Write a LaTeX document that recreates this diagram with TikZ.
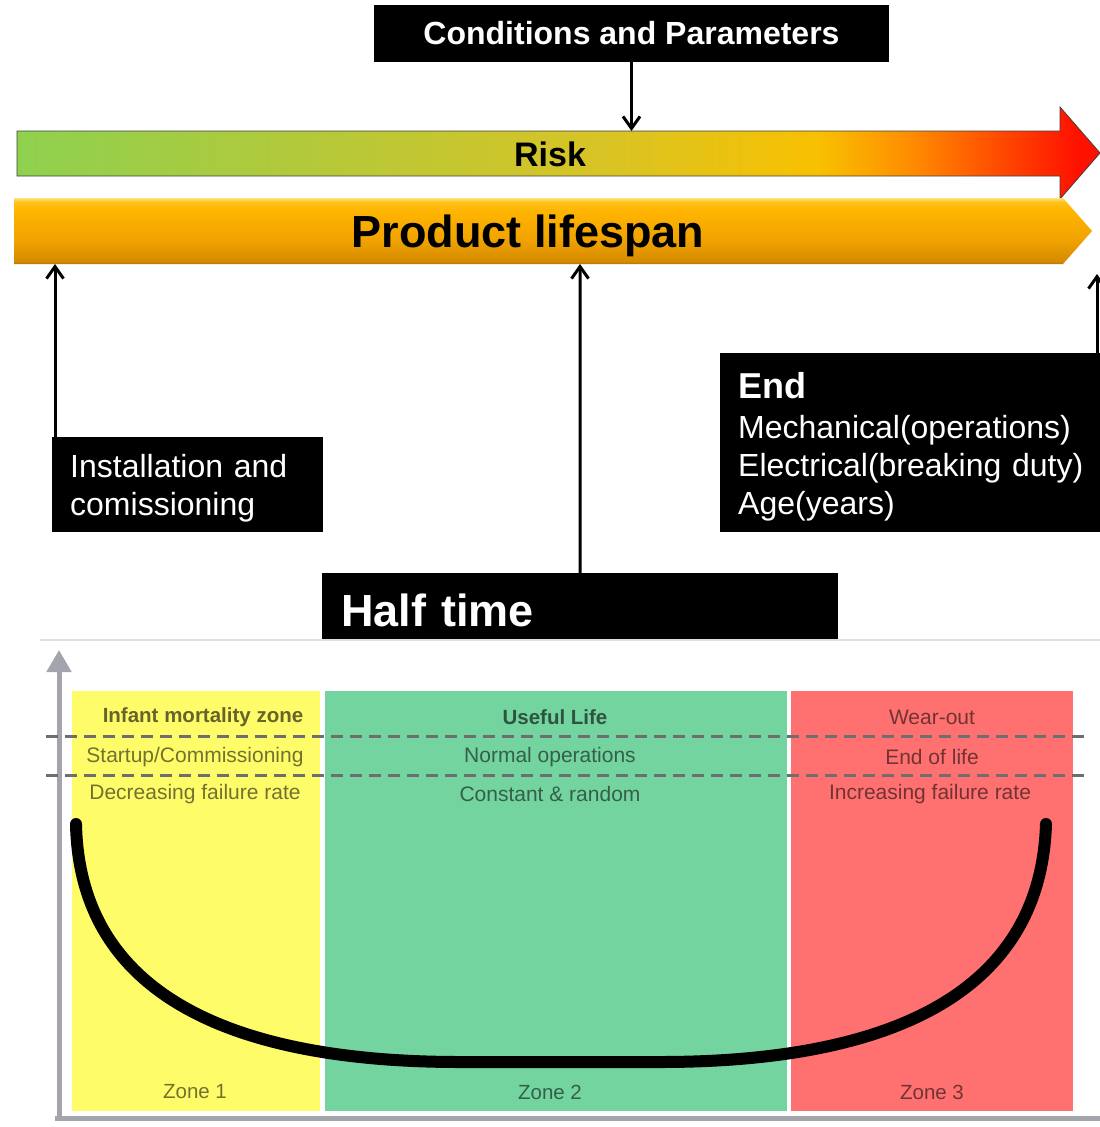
\documentclass[tikz,border=0pt]{standalone}
\usepackage{fontspec}
\setmainfont{Liberation Sans}
\usetikzlibrary{arrows.meta}
\definecolor{rg1}{RGB}{143,209,79}
\definecolor{rg2}{RGB}{178,201,58}
\definecolor{rg3}{RGB}{216,196,37}
\definecolor{rg4}{RGB}{248,192,0}
\definecolor{rg5}{RGB}{255,140,0}
\definecolor{rg6}{RGB}{255,64,0}
\definecolor{rg7}{RGB}{255,16,0}
\definecolor{lp0}{RGB}{176,116,16}
\definecolor{lp1}{RGB}{214,140,0}
\definecolor{lp2}{RGB}{242,164,0}
\definecolor{lp3}{RGB}{255,180,0}
\definecolor{lp4}{RGB}{255,194,26}
\definecolor{lp5}{RGB}{255,226,122}
\definecolor{zyellow}{RGB}{255,252,106}
\definecolor{zgreen}{RGB}{116,212,160}
\definecolor{zred}{RGB}{255,113,113}
\definecolor{axisgray}{RGB}{164,164,172}
\definecolor{dashgray}{RGB}{110,110,110}
\pgfdeclarehorizontalshading{riskshade}{100bp}{color(0bp)=(rg1); color(25bp)=(rg1); color(38bp)=(rg2); color(52bp)=(rg3); color(62bp)=(rg4); color(66.3bp)=(rg5); color(71bp)=(rg6); color(74bp)=(rg7); color(75bp)=(rg7); color(100bp)=(rg7)}
\pgfdeclareverticalshading{lifeshade}{100bp}{color(0bp)=(lp0); color(25bp)=(lp0); color(27bp)=(lp1); color(45bp)=(lp2); color(65bp)=(lp3); color(72bp)=(lp4); color(75bp)=(lp5); color(100bp)=(lp5)}
\begin{document}
\begin{tikzpicture}[x=1pt,y=-1pt,
  blackbox/.style={fill=black, text=white, inner sep=0pt},
  conn/.style={line width=3pt, -{Straight Barb[length=12pt,width=17pt]}},
  ztext/.style={text=black, text opacity=0.55, font=\fontsize{21}{24}\selectfont},
  zhead/.style={text=black, text opacity=0.6, font=\bfseries\fontsize{20.5}{24}\selectfont},
  zlabel/.style={text=black, text opacity=0.55, font=\fontsize{20.5}{24}\selectfont},
  dline/.style={dashgray, line width=3pt, dash pattern=on 12pt off 7pt}]
\useasboundingbox (0,0) rectangle (1100,1127);
\fill[white] (0,0) rectangle (1100,1127);

% Conditions
\node[blackbox, minimum width=515pt, minimum height=57pt, font=\bfseries\fontsize{32}{38}\selectfont] (cond) at (631.5,33.5) {Conditions and Parameters};

% Risk arrow
\shadedraw[shading=riskshade, draw=black!75, line width=0.8pt] (17,131) -- (1060,131) -- (1060,107) -- (1100,153) -- (1060,199) -- (1060,176) -- (17,176) -- cycle;
\node[font=\bfseries\fontsize{34}{40}\selectfont] (risk) at (550,154) {Risk};
\coordinate (risktop) at (631.5,131);

% Product lifespan
\shade[shading=lifeshade] (14,198) -- (1063,198) -- (1092,231) -- (1063,264) -- (14,264) -- cycle;
\node[font=\bfseries\fontsize{45}{50}\selectfont] (life) at (528,236) {Product lifespan};
\coordinate (lifeA) at (55,264);
\coordinate (lifeB) at (580,264);
\coordinate (lifeC) at (1097,274);

% Boxes
\node[blackbox, anchor=north west, minimum height=95pt, text width=235pt, inner xsep=18pt, align=left, font=\fontsize{32}{38}\selectfont] (inst) at (52,437) {\rule{0pt}{31pt}Installation and\\comissioning};
\node[blackbox, anchor=north west, minimum height=179pt, text width=350pt, inner xsep=18pt, align=left, font=\fontsize{32}{38}\selectfont] (endbox) at (720,353) {\rule{0pt}{34pt}{\bfseries\fontsize{36}{40}\selectfont End}\\[2pt]Mechanical(operations)\\Electrical(breaking duty)\\Age(years)};
\node[blackbox, anchor=north west, minimum height=74pt, text width=478pt, inner xsep=19pt, align=left, font=\bfseries\fontsize{45}{50}\selectfont] (half) at (322,573) {Half time};

% Connectors
\draw[conn] (cond.south) -- (risktop);
\draw[conn] ([xshift=3pt]inst.north west) -- (lifeA);
\draw[conn] (half.north) -- (lifeB);
\draw[conn] ([xshift=377pt]endbox.north west) -- (lifeC);

% Chart
\fill[white] (40,640) rectangle (1100,1127);
\draw[black!12, line width=1.5pt] (40,640) -- (1100,640);
\fill[zyellow] (72,691) rectangle (320,1111);
\fill[zgreen] (325,691) rectangle (787,1111);
\fill[zred] (791,691) rectangle (1073,1111);
\draw[axisgray, line width=5pt, -{Triangle[length=22pt,width=24pt]}] (59,1120) -- (59,650);
\draw[axisgray, line width=5pt] (55,1118) -- (1100,1118);
\draw[dline] (46,736) -- (1088,736);
\draw[dline] (46,775) -- (1088,775);

\node[zhead] (z1a) at (203,717) {Infant mortality zone};
\node[ztext] (z1b) at (195,757) {Startup/Commissioning};
\node[ztext] (z1c) at (195,794) {Decreasing failure rate};
\node[zhead] (z2a) at (555,717) {Useful Life};
\node[ztext] (z2b) at (550,757) {Normal operations};
\node[ztext] (z2c) at (550,794) {Constant \& random};
\node[ztext] (z3a) at (932,717) {Wear-out};
\node[ztext] (z3b) at (932,757) {End of life};
\node[ztext] (z3c) at (930,794) {Increasing failure rate};

\node[zlabel] (zone1) at (195,1092) {Zone 1};
\node[zlabel] (zone2) at (550,1092) {Zone 2};
\node[zlabel] (zone3) at (932,1092) {Zone 3};

% Bathtub curve
\draw[line width=12pt, line cap=round] (76,824) .. controls (80,1010) and (260,1062) .. (460,1062) -- (660,1062) .. controls (860,1062) and (1040,1010) .. (1046,824);
\end{tikzpicture}
\end{document}
